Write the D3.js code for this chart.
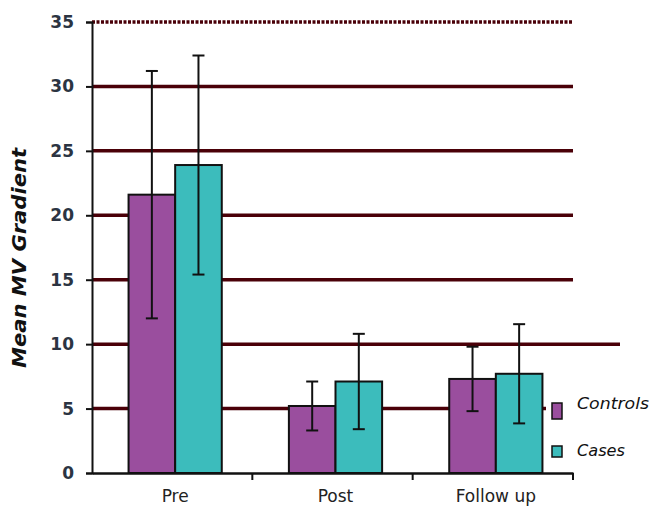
<!DOCTYPE html>
<html>
<head>
<meta charset="utf-8">
<script src="https://cdn.jsdelivr.net/npm/d3@7"></script>
<style>
  body { margin: 0; background: #fff; }
  svg { display: block; }
</style>
</head>
<body>
<script>
// data
var categories = ["Pre", "Post", "Follow up"];
var seriesNames = ["Controls", "Cases"];
var controlsMean = [21.6, 5.2, 7.3];
var controlsErr = [9.6, 1.9, 2.5];
var casesMean = [23.9, 7.1, 7.7];
var casesErr = [8.5, 3.7, 3.85];
var yTicks = [0, 5, 10, 15, 20, 25, 30, 35];

var colors = { Controls: "#9a4e9e", Cases: "#3cbcbc" };

var width = 649, height = 514;
var margin = { top: 22, right: 76, bottom: 41, left: 92 };

var svg = d3.select("body").append("svg")
    .attr("width", width)
    .attr("height", height);

var x = d3.scaleBand()
    .domain(categories)
    .range([margin.left, width - margin.right])
    .paddingInner(0)
    .paddingOuter(0);

var xInner = d3.scaleBand()
    .domain(seriesNames)
    .range([0, x.bandwidth()])
    .paddingOuter(0.72)
    .paddingInner(0);

var y = d3.scaleLinear()
    .domain([0, 35])
    .range([height - margin.bottom, margin.top]);

// build rows for bars
var rows = [];
categories.forEach(function (c, i) {
    rows.push({ cat: c, series: "Controls", mean: controlsMean[i], err: controlsErr[i] });
    rows.push({ cat: c, series: "Cases", mean: casesMean[i], err: casesErr[i] });
});

// gridlines (dark maroon)
svg.append("g")
    .selectAll("line")
    .data(yTicks.filter(function (d) { return d > 0; }))
    .enter().append("line")
    .attr("x1", margin.left)
    .attr("x2", function (d) {
        if (d === 10) return 620;
        if (d === 5) return 546;
        return width - margin.right;
    })
    .attr("y1", function (d) { return y(d); })
    .attr("y2", function (d) { return y(d); })
    .attr("stroke", "#4a0008")
    .attr("stroke-width", 3.5)
    .attr("stroke-dasharray", function (d) { return d === 35 ? "3,1.5" : null; });

// bars
svg.append("g")
    .selectAll("rect")
    .data(rows)
    .enter().append("rect")
    .attr("x", function (d) { return x(d.cat) + xInner(d.series) + 3; })
    .attr("y", function (d) { return y(d.mean); })
    .attr("width", xInner.bandwidth())
    .attr("height", function (d) { return y(0) - y(d.mean); })
    .attr("fill", function (d) { return colors[d.series]; })
    .attr("stroke", "#111")
    .attr("stroke-width", 2);

// error bars
var eb = svg.append("g")
    .attr("stroke", "#111")
    .attr("stroke-width", 2)
    .selectAll("g")
    .data(rows)
    .enter().append("g")
    .attr("transform", function (d) {
        return "translate(" + (x(d.cat) + xInner(d.series) + 3 + xInner.bandwidth() / 2) + ",0)";
    });
eb.append("line")
    .attr("y1", function (d) { return y(d.mean + d.err); })
    .attr("y2", function (d) { return y(d.mean - d.err); });
eb.append("line")
    .attr("x1", -6).attr("x2", 6)
    .attr("y1", function (d) { return y(d.mean + d.err); })
    .attr("y2", function (d) { return y(d.mean + d.err); });
eb.append("line")
    .attr("x1", -6).attr("x2", 6)
    .attr("y1", function (d) { return y(d.mean - d.err); })
    .attr("y2", function (d) { return y(d.mean - d.err); });

// y axis
var yAxis = svg.append("g")
    .attr("transform", "translate(" + margin.left + ",0)")
    .call(d3.axisLeft(y).tickValues(yTicks).tickSize(6).tickPadding(12));
yAxis.select(".domain").attr("stroke", "#111").attr("stroke-width", 2);
yAxis.selectAll(".tick line").attr("stroke", "#111").attr("stroke-width", 2);
yAxis.selectAll(".tick text")
    .attr("fill", "#2c3442")
    .style("font", "bold 17px 'DejaVu Sans', sans-serif");

// x axis
var xAxis = svg.append("g")
    .attr("transform", "translate(0," + y(0) + ")")
    .call(d3.axisBottom(x).tickSize(0).tickPadding(17));
xAxis.select(".domain").attr("stroke", "#111").attr("stroke-width", 2.5);
xAxis.selectAll(".tick text")
    .attr("fill", "#222")
    .attr("dx", 3)
    .style("font", "17px 'DejaVu Sans', sans-serif");

// x tick marks at band edges
svg.append("g")
    .selectAll("line")
    .data(categories.slice(1).concat(["end"]))
    .enter().append("line")
    .attr("x1", function (d) { return d === "end" ? width - margin.right : x(d); })
    .attr("x2", function (d) { return d === "end" ? width - margin.right : x(d); })
    .attr("y1", y(0))
    .attr("y2", y(0) + 7)
    .attr("stroke", "#111")
    .attr("stroke-width", 2);

// y title
svg.append("text")
    .attr("transform", "translate(26,258) rotate(-90)")
    .attr("text-anchor", "middle")
    .attr("fill", "#111")
    .attr("textLength", 220)
    .attr("lengthAdjust", "spacingAndGlyphs")
    .style("font", "italic bold 19px 'DejaVu Sans', sans-serif")
    .text("Mean MV Gradient");

// legend
var legend = svg.append("g")
    .selectAll("g")
    .data(seriesNames)
    .enter().append("g")
    .attr("transform", function (d, i) { return "translate(552," + (403 + i * 42) + ")"; });
legend.append("rect")
    .attr("width", 10)
    .attr("height", function (d, i) { return i === 0 ? 16 : 11; })
    .attr("y", function (d, i) { return i === 0 ? 0 : 1; })
    .attr("fill", function (d) { return colors[d]; })
    .attr("stroke", "#111")
    .attr("stroke-width", 1.5);
legend.append("text")
    .attr("x", 25)
    .attr("y", function (d, i) { return i === 0 ? 6 : 11; })
    .attr("fill", "#111")
    .attr("textLength", function (d) { return d === "Controls" ? 72 : 48; })
    .attr("lengthAdjust", "spacingAndGlyphs")
    .style("font", "italic 15px 'DejaVu Sans Condensed', 'DejaVu Sans', sans-serif")
    .text(function (d) { return d; });
</script>
</body>
</html>
